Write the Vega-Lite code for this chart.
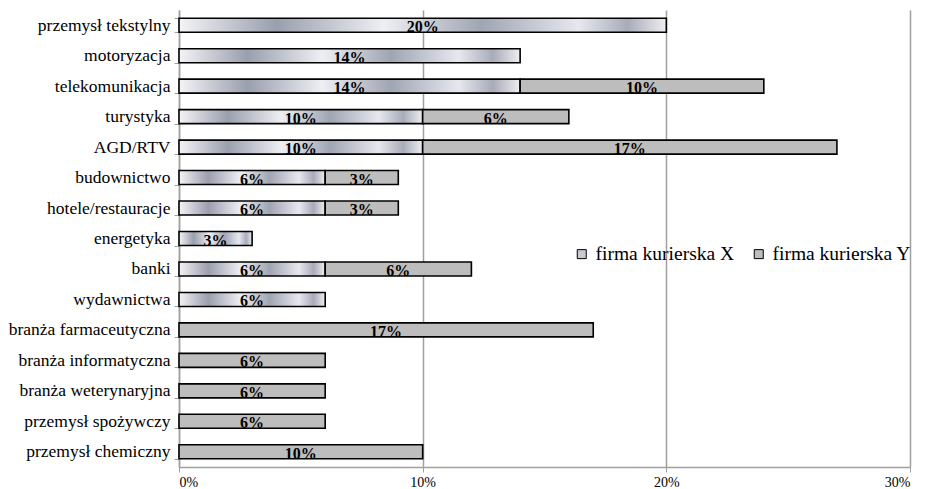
{
  "$schema": "https://vega.github.io/schema/vega-lite/v6.json",
  "width": 731,
  "height": 457,
  "autosize": {"type": "none"},
  "padding": {"left": 179, "top": 10, "right": 19, "bottom": 22},
  "config": {"font": "Times New Roman, Liberation Serif, serif", "view": {"stroke": null}, "background": "white"},
  "data": {
    "values": [
      {"kategoria": "przemysł tekstylny", "seria": "firma kurierska X", "wartosc": 0.20},
      {"kategoria": "motoryzacja", "seria": "firma kurierska X", "wartosc": 0.14},
      {"kategoria": "telekomunikacja", "seria": "firma kurierska X", "wartosc": 0.14},
      {"kategoria": "telekomunikacja", "seria": "firma kurierska Y", "wartosc": 0.10},
      {"kategoria": "turystyka", "seria": "firma kurierska X", "wartosc": 0.10},
      {"kategoria": "turystyka", "seria": "firma kurierska Y", "wartosc": 0.06},
      {"kategoria": "AGD/RTV", "seria": "firma kurierska X", "wartosc": 0.10},
      {"kategoria": "AGD/RTV", "seria": "firma kurierska Y", "wartosc": 0.17},
      {"kategoria": "budownictwo", "seria": "firma kurierska X", "wartosc": 0.06},
      {"kategoria": "budownictwo", "seria": "firma kurierska Y", "wartosc": 0.03},
      {"kategoria": "hotele/restauracje", "seria": "firma kurierska X", "wartosc": 0.06},
      {"kategoria": "hotele/restauracje", "seria": "firma kurierska Y", "wartosc": 0.03},
      {"kategoria": "energetyka", "seria": "firma kurierska X", "wartosc": 0.03},
      {"kategoria": "banki", "seria": "firma kurierska X", "wartosc": 0.06},
      {"kategoria": "banki", "seria": "firma kurierska Y", "wartosc": 0.06},
      {"kategoria": "wydawnictwa", "seria": "firma kurierska X", "wartosc": 0.06},
      {"kategoria": "branża farmaceutyczna", "seria": "firma kurierska Y", "wartosc": 0.17},
      {"kategoria": "branża informatyczna", "seria": "firma kurierska Y", "wartosc": 0.06},
      {"kategoria": "branża weterynaryjna", "seria": "firma kurierska Y", "wartosc": 0.06},
      {"kategoria": "przemysł spożywczy", "seria": "firma kurierska Y", "wartosc": 0.06},
      {"kategoria": "przemysł chemiczny", "seria": "firma kurierska Y", "wartosc": 0.10}
    ]
  },
  "transform": [
    {"stack": "wartosc", "groupby": ["kategoria"], "sort": [{"field": "seria", "order": "ascending"}], "as": ["v0", "v1"]},
    {"calculate": "(datum.v0 + datum.v1) / 2", "as": "mid"}
  ],
  "encoding": {
    "y": {
      "field": "kategoria",
      "type": "nominal",
      "sort": null,
      "scale": {"paddingInner": 0.54, "paddingOuter": 0.27},
      "axis": {
        "title": null,
        "labelFont": "Times New Roman, Liberation Serif, serif",
        "labelFontSize": 17.5,
        "labelColor": "black",
        "labelPadding": 4,
        "domainColor": "#a0a0a0",
        "domainWidth": 1.5,
        "tickColor": "#a0a0a0",
        "tickSize": 5,
        "tickBand": "extent"
      }
    }
  },
  "layer": [
    {
      "mark": {"type": "bar", "stroke": "black", "strokeWidth": 1.6},
      "encoding": {
        "x": {
          "field": "v0",
          "type": "quantitative",
          "scale": {"domain": [0, 0.3], "nice": false},
          "axis": {
            "title": null,
            "format": ".0%",
            "values": [0, 0.1, 0.2, 0.3],
            "grid": true,
            "gridColor": "#a0a0a0",
            "gridWidth": 1.5,
            "domainColor": "#a0a0a0",
            "domainWidth": 1.5,
            "tickColor": "#a0a0a0",
            "tickSize": 5,
            "labelFont": "Times New Roman, Liberation Serif, serif",
            "labelFontSize": 14,
            "labelColor": "black",
            "labelPadding": 3
          }
        },
        "x2": {"field": "v1"},
        "color": {
          "field": "seria",
          "type": "nominal",
          "scale": {"domain": ["firma kurierska X", "firma kurierska Y"], "range": ["#c8cad2", "#bdbdbd"]},
          "condition": {
            "test": "datum.seria === 'firma kurierska X'",
            "value": {
              "gradient": "linear",
              "x1": 0, "y1": 0, "x2": 1, "y2": 0,
              "stops": [
                {"offset": 0, "color": "#f4f4f6"},
                {"offset": 0.2, "color": "#9a9fae"},
                {"offset": 0.42, "color": "#eeeff3"},
                {"offset": 0.62, "color": "#a0a5b3"},
                {"offset": 0.82, "color": "#e6e8ee"},
                {"offset": 0.92, "color": "#a8acb9"},
                {"offset": 1, "color": "#eeeef2"}
              ]
            }
          },
          "legend": {
            "orient": "none",
            "legendX": 393,
            "legendY": 234,
            "direction": "horizontal",
            "title": null,
            "symbolType": "square",
            "symbolSize": 81,
            "symbolStrokeColor": "black",
            "symbolStrokeWidth": 1,
            "labelFont": "Times New Roman, Liberation Serif, serif",
            "labelFontSize": 19.5,
            "labelColor": "black",
            "labelOffset": 4,
            "columnPadding": 14
          }
        }
      }
    },
    {
      "mark": {"type": "text", "font": "Times New Roman, Liberation Serif, serif", "fontWeight": "bold", "fontSize": 16, "baseline": "middle", "dy": 2, "color": "black"},
      "encoding": {
        "x": {"field": "mid", "type": "quantitative"},
        "text": {"field": "wartosc", "type": "quantitative", "format": ".0%"}
      }
    }
  ]
}
